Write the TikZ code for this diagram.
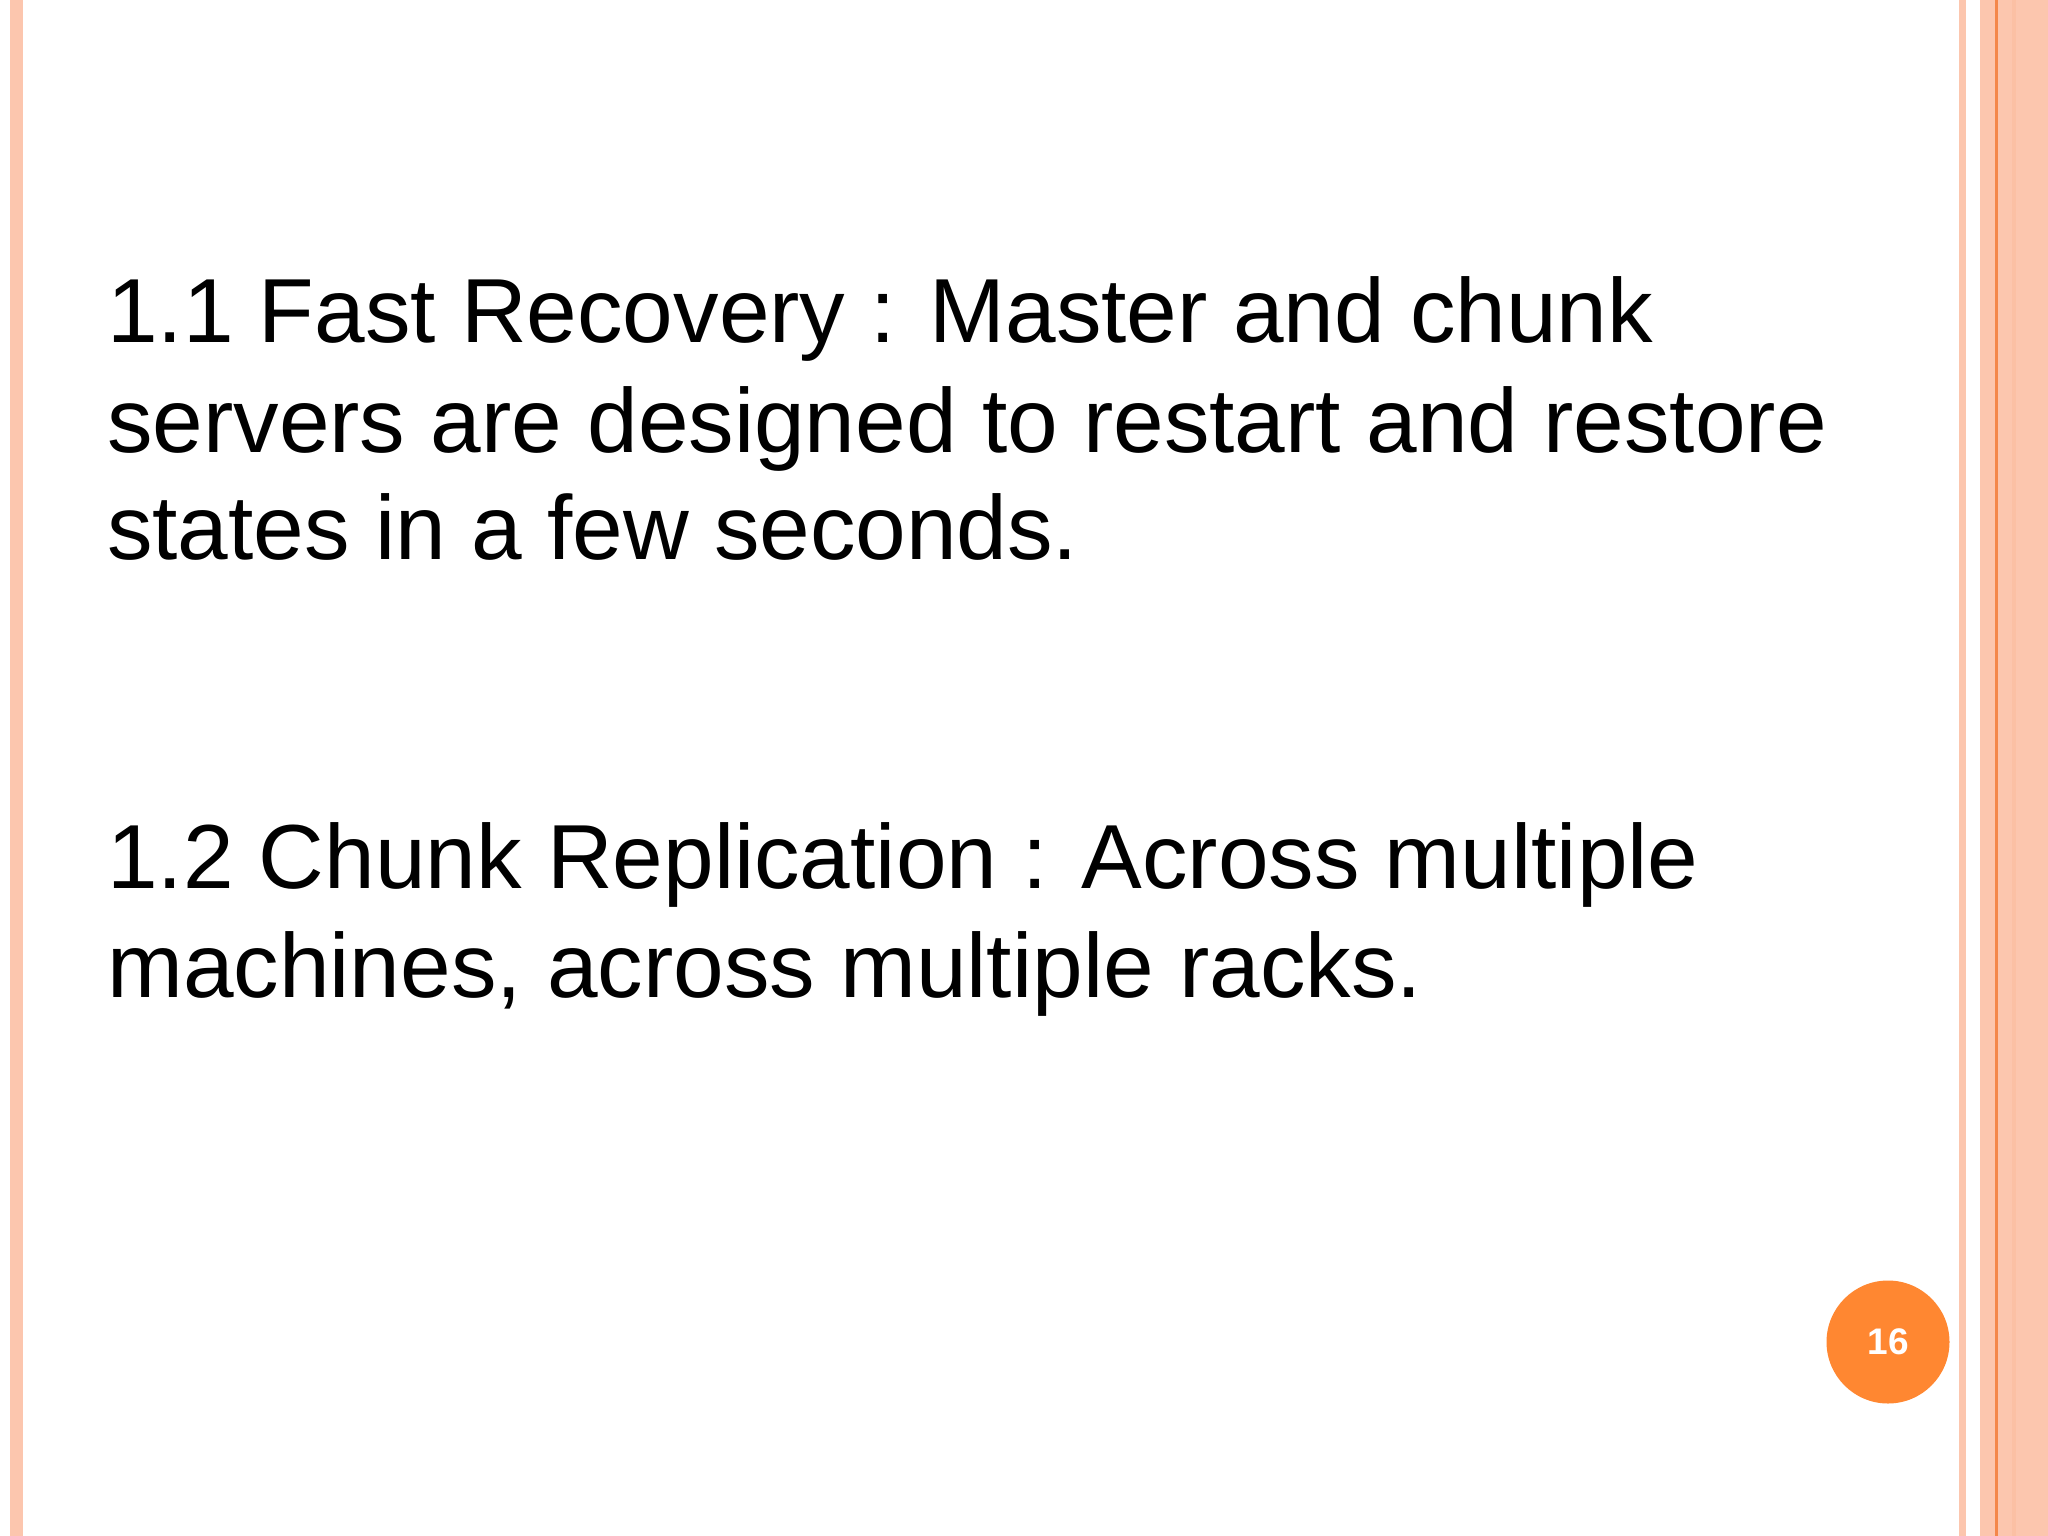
\documentclass[tikz,border=0pt]{standalone}
\usepackage{fontspec}
\setmainfont{Liberation Sans}
\definecolor{salmon}{HTML}{FCC6AE}
\definecolor{dorange}{HTML}{F4874A}
\definecolor{corange}{HTML}{FF8731}
\begin{document}
\begin{tikzpicture}[x=1pt,y=-1pt,
  body/.style={anchor=base west,inner sep=0pt,font=\fontsize{91}{110}\selectfont}]
\useasboundingbox (0,0) rectangle (2048,1536);
\fill[white] (0,0) rectangle (2048,1536);
\fill[salmon] (10,0) rectangle (23,1536);
\fill[salmon] (1959,0) rectangle (1966,1536);
\fill[salmon] (1980,0) rectangle (2048,1536);
\fill[dorange] (1995,0) rectangle (1998,1536);
\fill[salmon!90!dorange] (2012,0) rectangle (2016,1536);
\node[body] (l1) at (107,342) {1.1 Fast Recovery : Master and chunk};
\node[body] (l2) at (107,452) {servers are designed to restart and restore};
\node[body] (l3) at (107,559) {states in a few seconds.};
\node[body] (l4) at (107,888) {1.2 Chunk Replication : Across multiple};
\node[body] (l5) at (107,997) {machines, across multiple racks.};
\node[circle,fill=corange,minimum size=123pt,inner sep=0pt,text=white,font=\fontsize{37}{40}\selectfont\bfseries] (pg) at (1888,1342) {16};
\end{tikzpicture}
\end{document}
